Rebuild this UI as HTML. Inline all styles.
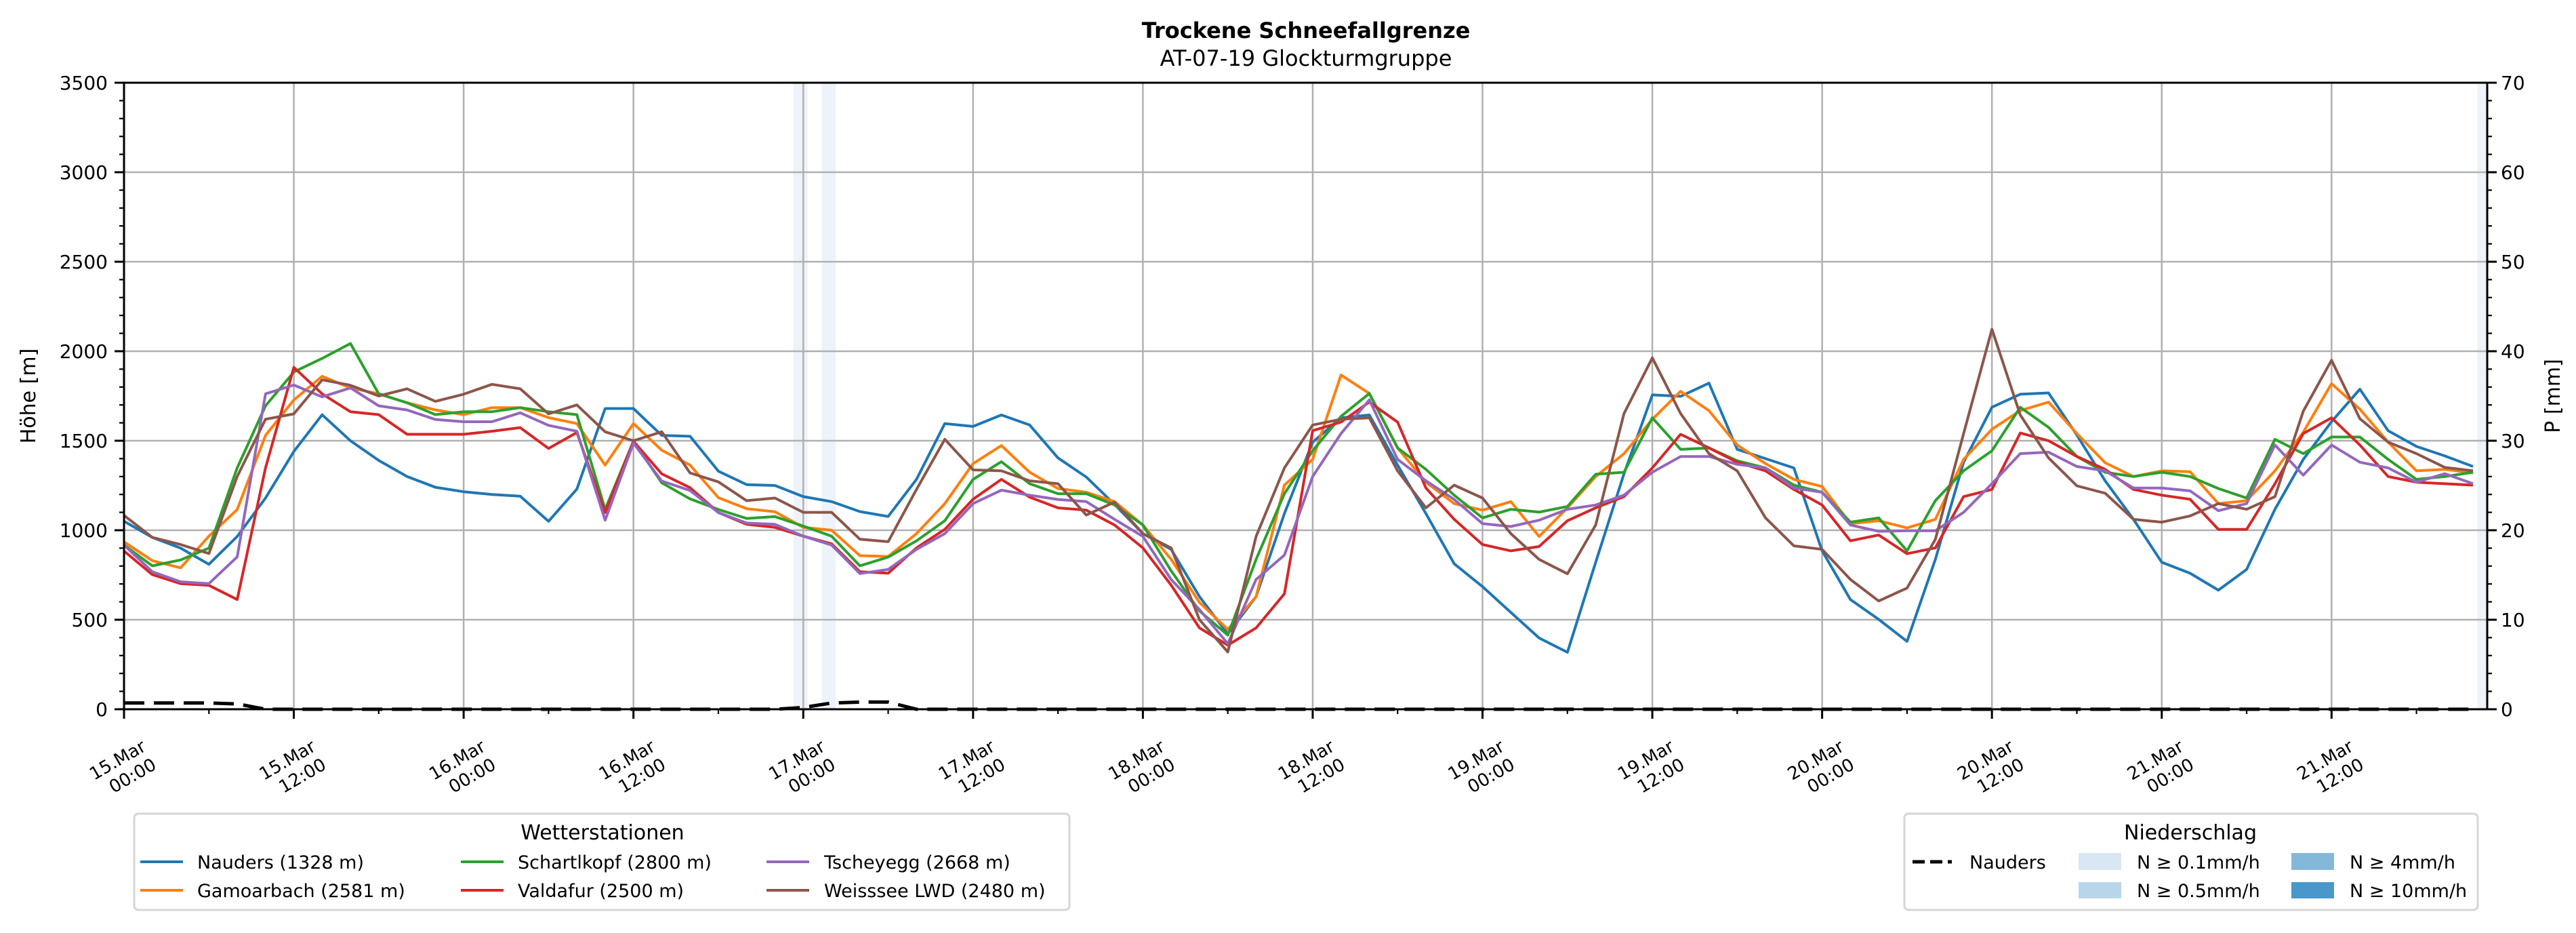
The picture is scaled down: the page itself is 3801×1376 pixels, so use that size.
<!DOCTYPE html>
<html><head><meta charset="utf-8"><style>
html,body{margin:0;padding:0;background:#fff;}
svg text{font-family:"DejaVu Sans","Liberation Sans",sans-serif;}
</style></head><body>
<svg id="chart" width="3801" height="1371" viewBox="0 0 3801 1371" xmlns="http://www.w3.org/2000/svg">
<rect width="3801" height="1371" fill="#fff"/>
<text x="1927" y="56" font-size="32" font-weight="bold" text-anchor="middle">Trockene Schneefallgrenze</text>
<text x="1927" y="97" font-size="32" text-anchor="middle">AT-07-19 Glockturmgruppe</text>
<g id="shade"></g>
<g id="grid"></g>
<g id="series"></g>
<g id="axes"></g>
<text transform="translate(52,584) rotate(-90)" font-size="30" text-anchor="middle">Höhe [m]</text>
<text transform="translate(3777,584) rotate(-90)" font-size="30" text-anchor="middle">P [mm]</text>

<g>
<rect x="198" y="1200" width="1380" height="142" rx="6" fill="#fff" stroke="#d6d6d6" stroke-width="3"/>
<text x="889" y="1238" font-size="30" text-anchor="middle">Wetterstationen</text>
<g><line x1="207" x2="270" y1="1271" y2="1271" stroke="#1f77b4" stroke-width="4"/><text x="291" y="1281" font-size="27">Nauders (1328 m)</text></g>
<g><line x1="207" x2="270" y1="1313" y2="1313" stroke="#ff7f0e" stroke-width="4"/><text x="291" y="1323" font-size="27">Gamoarbach (2581 m)</text></g>
<g><line x1="680" x2="743" y1="1271" y2="1271" stroke="#2ca02c" stroke-width="4"/><text x="764" y="1281" font-size="27">Schartlkopf (2800 m)</text></g>
<g><line x1="680" x2="743" y1="1313" y2="1313" stroke="#d62728" stroke-width="4"/><text x="764" y="1323" font-size="27">Valdafur (2500 m)</text></g>
<g><line x1="1131" x2="1194" y1="1271" y2="1271" stroke="#9467bd" stroke-width="4"/><text x="1216" y="1281" font-size="27">Tscheyegg (2668 m)</text></g>
<g><line x1="1131" x2="1194" y1="1313" y2="1313" stroke="#8c564b" stroke-width="4"/><text x="1216" y="1323" font-size="27">Weisssee LWD (2480 m)</text></g>
</g>

<g>
<rect x="2810" y="1200" width="846" height="142" rx="6" fill="#fff" stroke="#d6d6d6" stroke-width="3"/>
<text x="3232" y="1238" font-size="30" text-anchor="middle">Niederschlag</text>
<g><line x1="2822" x2="2880" y1="1271" y2="1271" stroke="#000" stroke-width="5" stroke-dasharray="18,8"/><text x="2906" y="1281" font-size="27">Nauders</text></g>
<g><rect x="3067" y="1258" width="63" height="25" fill="#d9e7f5"/><text x="3153" y="1281" font-size="27">N ≥ 0.1mm/h</text></g>
<g><rect x="3067" y="1301" width="63" height="24" fill="#b9d5ea"/><text x="3153" y="1323" font-size="27">N ≥ 0.5mm/h</text></g>
<g><rect x="3381" y="1258" width="63" height="25" fill="#84b8da"/><text x="3467" y="1281" font-size="27">N ≥ 4mm/h</text></g>
<g><rect x="3381" y="1301" width="63" height="24" fill="#4a98c9"/><text x="3467" y="1323" font-size="27">N ≥ 10mm/h</text></g>
</g>
</svg>
<script>
const hours = [];
for (let h = 0; h <= 166; h += 2) hours.push(h);
const nauders = [1050,960,900,810,965,1180,1440,1645,1500,1390,1300,1240,1215,1200,1190,1050,1230,1680,1680,1530,1525,1330,1255,1250,1188,1160,1104,1077,1284,1596,1580,1644,1588,1404,1297,1144,981,893,629,420,629,1093,1492,1628,1644,1364,1093,813,685,541,398,318,821,1316,1756,1748,1822,1452,1400,1348,885,613,502,379,837,1380,1687,1760,1767,1532,1276,1061,821,760,665,781,1117,1396,1607,1788,1556,1468,1415,1356];
const gamoarbach = [935,830,790,967,1116,1530,1728,1860,1795,1762,1712,1672,1646,1685,1685,1629,1596,1364,1596,1447,1364,1182,1120,1103,1016,1000,858,853,981,1149,1372,1473,1324,1233,1212,1160,1029,837,597,446,629,1252,1396,1867,1764,1460,1268,1149,1112,1160,965,1125,1300,1428,1620,1776,1668,1476,1372,1284,1244,1037,1053,1013,1061,1396,1564,1668,1716,1540,1377,1300,1332,1327,1149,1165,1332,1548,1819,1676,1492,1332,1340,1320];
const schartlkopf = [917,801,834,900,1348,1695,1884,1960,2043,1762,1712,1646,1662,1662,1685,1662,1646,1116,1497,1265,1175,1116,1066,1076,1023,967,801,850,941,1053,1284,1383,1260,1204,1204,1141,1029,773,549,414,837,1204,1444,1636,1764,1460,1340,1196,1069,1117,1101,1133,1313,1324,1628,1452,1460,1388,1348,1252,1212,1045,1069,885,1165,1332,1444,1687,1575,1412,1324,1300,1324,1300,1233,1180,1508,1428,1521,1521,1396,1284,1300,1324];
const valdafur = [884,752,702,692,613,1348,1910,1762,1662,1646,1536,1536,1536,1553,1573,1457,1546,1099,1497,1315,1238,1099,1033,1016,967,924,768,760,901,1005,1173,1284,1185,1125,1112,1029,901,693,454,358,454,645,1556,1604,1716,1604,1236,1061,920,885,909,1053,1125,1188,1348,1536,1460,1380,1332,1228,1141,941,973,869,901,1188,1228,1543,1500,1412,1340,1228,1196,1173,1005,1005,1260,1540,1628,1476,1300,1268,1260,1252];
const tscheyegg = [917,768,712,702,851,1762,1811,1745,1795,1695,1672,1619,1606,1606,1656,1586,1553,1056,1487,1275,1222,1099,1040,1033,967,917,758,781,893,981,1149,1224,1196,1172,1160,1061,965,725,557,366,725,861,1300,1540,1728,1396,1276,1172,1037,1021,1056,1117,1141,1196,1324,1412,1412,1368,1348,1236,1212,1029,994,997,997,1100,1260,1428,1436,1356,1332,1236,1236,1220,1109,1149,1476,1308,1476,1380,1348,1268,1316,1260];
const weisssee = [1083,960,920,870,1300,1620,1650,1840,1810,1750,1790,1720,1760,1815,1790,1650,1700,1550,1500,1550,1320,1270,1165,1180,1100,1100,950,936,1228,1508,1337,1332,1276,1260,1085,1157,981,901,500,320,965,1348,1588,1620,1628,1332,1125,1252,1180,981,837,757,1029,1652,1963,1652,1428,1332,1069,913,893,725,605,677,949,1540,2123,1644,1404,1248,1207,1061,1045,1080,1149,1117,1188,1665,1950,1623,1492,1428,1351,1332];
const precipNauders = [0.7,0.7,0.7,0.7,0.6,0,0,0,0,0,0,0,0,0,0,0,0,0,0,0,0,0,0,0,0.2,0.7,0.8,0.8,0,0,0,0,0,0,0,0,0,0,0,0,0,0,0,0,0,0,0,0,0,0,0,0,0,0,0,0,0,0,0,0,0,0,0,0,0,0,0,0,0,0,0,0,0,0,0,0,0,0,0,0,0,0,0,0];
const shadeHours = [48, 50, 167];
const yTicks = [0,500,1000,1500,2000,2500,3000,3500];
const y2Ticks = [0,10,20,30,40,50,60,70];
const xTickLabels = [["15.Mar","00:00"],["15.Mar","12:00"],["16.Mar","00:00"],["16.Mar","12:00"],["17.Mar","00:00"],["17.Mar","12:00"],["18.Mar","00:00"],["18.Mar","12:00"],["19.Mar","00:00"],["19.Mar","12:00"],["20.Mar","00:00"],["20.Mar","12:00"],["21.Mar","00:00"],["21.Mar","12:00"]];

const L=183,R=3670,T=122,B=1046,HMAX=167,YMAX=3500,PMAX=70;
const xS=h=>L+(R-L)*h/HMAX;
const yS=v=>B-(B-T)*v/YMAX;
const pS=v=>B-(B-T)*v/PMAX;
const NS="http://www.w3.org/2000/svg";
function mk(tag,attrs,parent){const e=document.createElementNS(NS,tag);for(const k in attrs)e.setAttribute(k,attrs[k]);parent.appendChild(e);return e;}
const gShade=document.getElementById('shade'),gGrid=document.getElementById('grid'),gSer=document.getElementById('series'),gAx=document.getElementById('axes');

shadeHours.forEach(h=>{
  const x0=xS(h-0.7), x1=Math.min(R,xS(h+0.3));
  const r=mk('rect',{x:x0,y:T,width:x1-x0,height:B-T,fill:'#eef3fa'},gShade);
  
  
});
yTicks.forEach(v=>{
  if(v>0&&v<YMAX){const l=mk('line',{x1:L,x2:R,y1:yS(v),y2:yS(v),stroke:'#b0b0b0','stroke-width':2.5},gGrid);
  
  }
});
xTickLabels.forEach((lab,i)=>{
  if(i>0){const l=mk('line',{x1:xS(i*12),x2:xS(i*12),y1:T,y2:B,stroke:'#b0b0b0','stroke-width':2.5},gGrid);
  
  }
});

const series=[[nauders,'#1f77b4','line-nauders'],[gamoarbach,'#ff7f0e','line-gamoarbach'],[schartlkopf,'#2ca02c','line-schartlkopf'],[valdafur,'#d62728','line-valdafur'],[tscheyegg,'#9467bd','line-tscheyegg'],[weisssee,'#8c564b','line-weisssee']];
series.forEach(([vals,col,name])=>{
  const pts=vals.map((v,i)=>xS(hours[i]).toFixed(1)+','+yS(v).toFixed(1)).join(' ');
  const p=mk('polyline',{points:pts,fill:'none',stroke:col,'stroke-width':4,'stroke-linejoin':'round'},gSer);
  
  
});
{
  const pts=precipNauders.map((v,i)=>xS(hours[i]).toFixed(1)+','+pS(v).toFixed(1)).join(' ');
  const p=mk('polyline',{points:pts,fill:'none',stroke:'#000','stroke-width':5,'stroke-dasharray':'30,14'},gSer);
  
  
}

const fr=mk('rect',{x:L,y:T,width:R-L,height:B-T,fill:'none',stroke:'#000','stroke-width':3},gAx);


for(let v=0;v<=YMAX;v+=100){
  const major=v%500===0;
  mk('line',{x1:L,x2:L-(major?14:7),y1:yS(v),y2:yS(v),stroke:'#000','stroke-width':major?3:2.2},gAx);
}
yTicks.forEach(v=>{
  const t=mk('text',{x:L-24,y:yS(v)+10,'font-size':28,'text-anchor':'end'},gAx);
  t.textContent=v;
  
  
});
for(let v=0;v<=PMAX;v+=2){
  const major=v%10===0;
  mk('line',{x1:R,x2:R+(major?14:7),y1:pS(v),y2:pS(v),stroke:'#000','stroke-width':major?3:2.2},gAx);
}
y2Ticks.forEach(v=>{
  const t=mk('text',{x:R+20,y:pS(v)+10,'font-size':28},gAx);
  t.textContent=v;
  
  
});
for(let h=0;h<=HMAX;h+=6){
  const major=h%12===0;
  mk('line',{x1:xS(h),x2:xS(h),y1:B,y2:B+(major?14:7),stroke:'#000','stroke-width':major?3:2.2},gAx);
}
xTickLabels.forEach((lab,i)=>{
  const g=mk('g',{transform:`translate(${xS(i*12)+34},1106) rotate(-30)`},gAx);
  
  
  const t1=mk('text',{x:0,y:0,'font-size':26,'text-anchor':'end'},g);t1.textContent=lab[0];
  const t2=mk('text',{x:0,y:31,'font-size':26,'text-anchor':'end'},g);t2.textContent=lab[1];
});
</script>
</body></html>
